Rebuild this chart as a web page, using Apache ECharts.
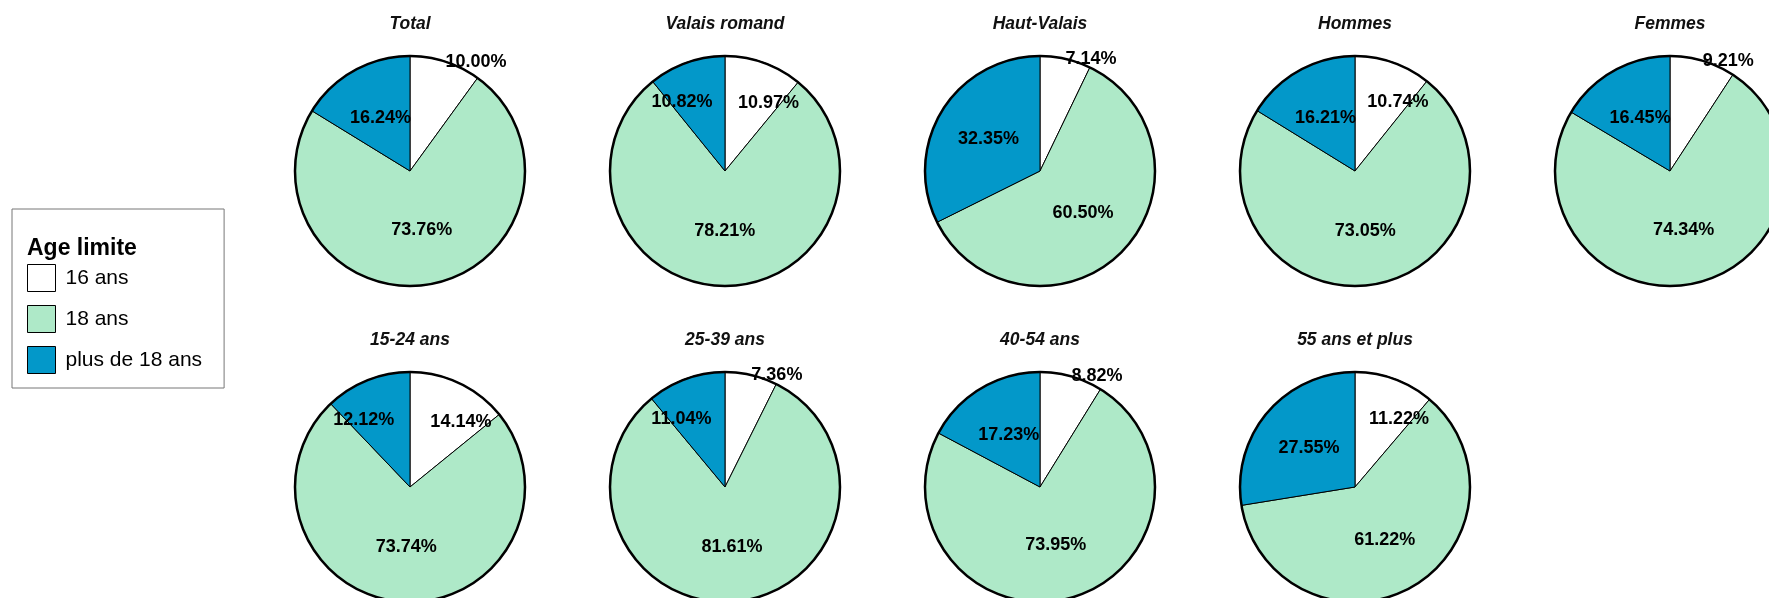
<!DOCTYPE html>
<html>
<head>
<meta charset="utf-8">
<script src="https://cdn.jsdelivr.net/npm/echarts@6/dist/echarts.min.js"></script>
<style>
  html, body { margin: 0; padding: 0; background: #fff; }
  #chart { width: 1769px; height: 598px; }
</style>
</head>
<body>
<div id="chart"></div>
<script>
// 每个小饼图的标题
const groupNames = ['Total', 'Valais romand', 'Haut-Valais', 'Hommes', 'Femmes',
  '15-24 ans', '25-39 ans', '40-54 ans', '55 ans et plus'];
// 图例类别
const categories = ['16 ans', '18 ans', 'plus de 18 ans'];
// 各类别百分比（按上面的组顺序）
const pct16 = [10.00, 10.97, 7.14, 10.74, 9.21, 14.14, 7.36, 8.82, 11.22];
const pct18 = [73.76, 78.21, 60.50, 73.05, 74.34, 73.74, 81.61, 73.95, 61.22];
const pctPlus18 = [16.24, 10.82, 32.35, 16.21, 16.45, 12.12, 11.04, 17.23, 27.55];

const colors = ['#ffffff', '#aee9c8', '#0398c9'];

// 布局：两行，每行最多 5 个
const firstX = 410, stepX = 315;
const rowY = [171, 487];
const radius = 115;
const perRow = 5;

const labelFont = {
  fontFamily: 'Liberation Sans',
  fontWeight: 'bold',
  fontSize: 18,
  color: '#000'
};
const fmt = p => p.value.toFixed(2) + '%';

const chart = echarts.init(document.getElementById('chart'));

const series = [];
const titles = [];
const polars = [];
const angleAxes = [];
const radiusAxes = [];

groupNames.forEach((name, i) => {
  const cx = firstX + (i % perRow) * stepX;
  const cy = rowY[Math.floor(i / perRow)];
  const values = [pct16[i], pct18[i], pctPlus18[i]];

  titles.push({
    text: name,
    left: cx,
    top: cy - 156,
    textAlign: 'center',
    padding: 0,
    textStyle: {
      fontFamily: 'Liberation Sans',
      fontStyle: 'italic',
      fontWeight: 'bold',
      fontSize: 17.5,
      color: '#111'
    }
  });

  // 饼图本体：大扇区标签放在半径一半处，小扇区放外面
  series.push({
    name: name,
    type: 'pie',
    center: [cx, cy],
    radius: radius,
    startAngle: 90,
    clockwise: true,
    silent: true,
    animation: false,
    avoidLabelOverlap: false,
    labelLayout: { hideOverlap: false },
    itemStyle: { borderColor: '#000', borderWidth: 1 },
    label: Object.assign({ formatter: fmt }, labelFont),
    labelLine: { show: false, length: 0, length2: 0 },
    data: values.map((v, k) => ({
      name: categories[k],
      value: v,
      itemStyle: { color: colors[k] },
      label: v < 10.5
        ? { position: 'outside', distanceToLabelLine: 0 }
        : v < 15
          ? { show: false }
          : { position: 'inside' }
    }))
  });

  // 透明的大饼图，只用来把中等扇区的标签往外推一点
  series.push({
    name: name + ' labels',
    type: 'pie',
    center: [cx, cy],
    radius: radius * 1.36,
    startAngle: 90,
    clockwise: true,
    silent: true,
    animation: false,
    avoidLabelOverlap: false,
    // 顶部两侧的标签再往左右分开一点
    labelLayout: p => ({ hideOverlap: false, dx: p.dataIndex === 0 ? 16 : -16, dy: 8 }),
    legendHoverLink: false,
    itemStyle: { color: 'rgba(0,0,0,0)', borderWidth: 0 },
    label: Object.assign({ position: 'inside', formatter: fmt }, labelFont),
    labelLine: { show: false },
    data: values.map((v, k) => ({
      name: categories[k],
      value: v,
      label: { show: v >= 10.5 && v < 15 }
    }))
  });

  // 外圈粗边框用极坐标的角度轴画
  polars.push({ center: [cx, cy], radius: radius });
  angleAxes.push({
    polarIndex: i,
    type: 'value',
    min: 0,
    max: 100,
    z: 10,
    axisLine: { lineStyle: { color: '#000', width: 2.5 } },
    axisTick: { show: false },
    axisLabel: { show: false },
    splitLine: { show: false }
  });
  radiusAxes.push({ polarIndex: i, show: false });
});

titles.push({
  text: 'Age limite',
  left: 27,
  top: 237,
  padding: 0,
  textStyle: {
    fontFamily: 'Liberation Sans',
    fontWeight: 'bold',
    fontSize: 23,
    color: '#000'
  }
});

const option = {
  backgroundColor: '#fff',
  animation: false,
  title: titles,
  legend: {
    data: categories,
    orient: 'vertical',
    left: 12,
    top: 209,
    padding: [55, 22, 14, 15],
    borderColor: '#777',
    borderWidth: 1,
    itemWidth: 28,
    itemHeight: 27,
    itemGap: 13,
    icon: 'rect',
    selectedMode: false,
    itemStyle: { borderColor: '#000', borderWidth: 1 },
    textStyle: {
      fontFamily: 'Liberation Sans',
      fontSize: 21,
      lineHeight: 27,
      color: '#000',
      padding: [0, 0, 0, 5]
    }
  },
  polar: polars,
  angleAxis: angleAxes,
  radiusAxis: radiusAxes,
  series: series
};

chart.setOption(option);
</script>
</body>
</html>
